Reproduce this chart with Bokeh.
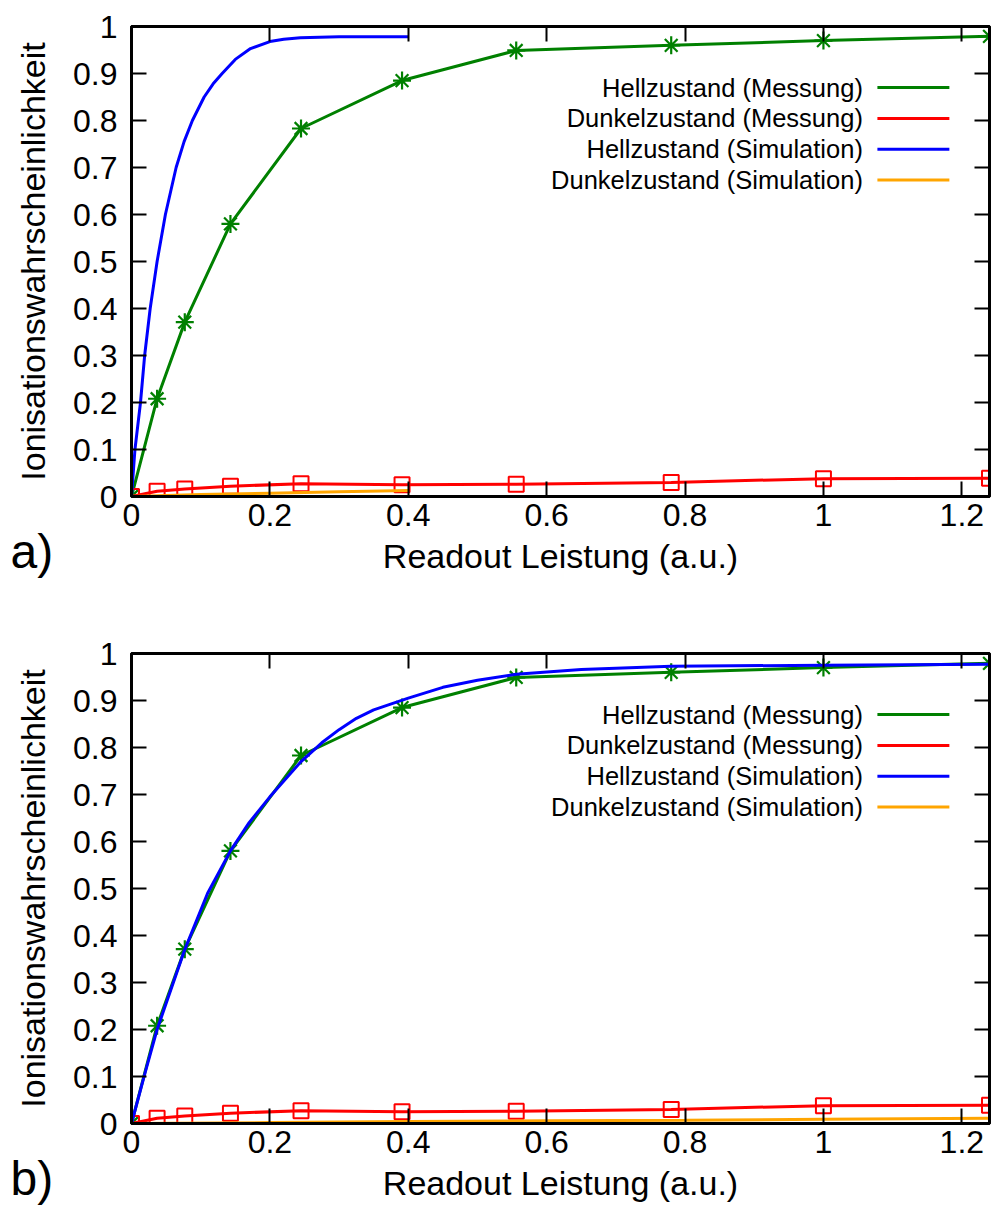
from bokeh.plotting import figure
from bokeh.models import LinearAxis, FixedTicker, Label, Range1d
from bokeh.layouts import column
from bokeh.embed import file_html
from bokeh.resources import INLINE

# ---------------- data ----------------
x_ticks = [0, 0.2, 0.4, 0.6, 0.8, 1.0, 1.2]
x_tick_labels = ["0", "0.2", "0.4", "0.6", "0.8", "1", "1.2"]
y_ticks = [0, 0.1, 0.2, 0.3, 0.4, 0.5, 0.6, 0.7, 0.8, 0.9, 1.0]
y_tick_labels = ["0", "0.1", "0.2", "0.3", "0.4", "0.5", "0.6", "0.7", "0.8", "0.9", "1"]

series_names = ["Hellzustand (Messung)", "Dunkelzustand (Messung)",
                "Hellzustand (Simulation)", "Dunkelzustand (Simulation)"]
panel_tags = ["a)", "b)"]

# measurement (same in both panels)
x_meas = [0, 0.037, 0.077, 0.143, 0.245, 0.391, 0.556, 0.78, 1.0, 1.24]
hell_meas = [0, 0.208, 0.371, 0.580, 0.783, 0.885, 0.949, 0.960, 0.970, 0.979]
dunkel_meas = [0, 0.011, 0.016, 0.022, 0.027, 0.025, 0.026, 0.030, 0.038, 0.039]

# panel a) simulation
sim_a_x = [0, 0.005, 0.013, 0.019, 0.027, 0.037, 0.049, 0.0645, 0.076, 0.088,
           0.105, 0.118, 0.131, 0.15, 0.172, 0.2, 0.22, 0.244, 0.3, 0.4]
sim_a_hell = [0, 0.1, 0.2, 0.3, 0.4, 0.5, 0.6, 0.7, 0.755, 0.8,
              0.85, 0.878, 0.9, 0.93, 0.953, 0.968, 0.973, 0.976, 0.978, 0.978]
sim_a_dx = [0, 0.1, 0.2, 0.3, 0.4]
sim_a_dunkel = [0, 0.004, 0.007, 0.010, 0.013]

# panel b) simulation
sim_b_x = [0, 0.02, 0.037, 0.077, 0.11, 0.143, 0.17, 0.2, 0.245, 0.275, 0.3,
           0.325, 0.35, 0.4, 0.45, 0.5, 0.556, 0.65, 0.78, 1.0, 1.24]
sim_b_hell = [0, 0.11, 0.2, 0.37, 0.49, 0.58, 0.64, 0.695, 0.77, 0.81, 0.838,
              0.862, 0.88, 0.905, 0.928, 0.943, 0.956, 0.966, 0.973, 0.975, 0.977]
sim_b_dx = [0, 0.2, 0.4, 0.6, 0.8, 1.0, 1.24]
sim_b_dunkel = [0, 0.002, 0.004, 0.006, 0.007, 0.009, 0.011]

# ---------------- styling ----------------
FONT = "Liberation Sans"
GREEN = "#008000"
RED = "#ff0000"
BLUE = "#0000ff"
ORANGE = "#ffa500"
colors = [GREEN, RED, BLUE, ORANGE]


def style_axis(ax, ticks, labels, show_labels=True):
    ax.ticker = FixedTicker(ticks=ticks)
    if show_labels:
        ax.major_label_overrides = {t: l for t, l in zip(ticks, labels)}
    else:
        ax.major_label_overrides = {t: "" for t in ticks}
    ax.major_tick_in = 15
    ax.major_tick_out = 0
    ax.minor_tick_line_color = None
    ax.major_tick_line_width = 2
    ax.major_tick_line_color = "black"
    ax.axis_line_width = 3
    ax.axis_line_color = "black"
    ax.major_label_text_font = FONT
    ax.major_label_text_font_size = "32px"
    ax.major_label_text_color = "black"
    ax.axis_label_text_font = FONT
    ax.axis_label_text_font_size = "34px"
    ax.axis_label_text_font_style = "normal"
    ax.axis_label_text_color = "black"


def make_fig(sim_x, sim_hell, sim_dx, sim_dunkel, bottom_border):
    p = figure(frame_width=858, frame_height=470,
               x_range=Range1d(0, 1.24), y_range=Range1d(0, 1),
               output_backend="svg", toolbar_location=None,
               min_border_left=131, min_border_right=9,
               min_border_top=26, min_border_bottom=bottom_border,
               x_axis_label="Readout Leistung (a.u.)",
               y_axis_label="Ionisationswahrscheinlichkeit")
    p.grid.visible = False
    p.outline_line_color = "black"
    p.outline_line_width = 3
    p.background_fill_color = "white"
    p.border_fill_color = "white"

    style_axis(p.xaxis[0], x_ticks, x_tick_labels)
    style_axis(p.yaxis[0], y_ticks, y_tick_labels)
    p.xaxis[0].major_label_standoff = 7
    p.xaxis[0].axis_label_standoff = 8
    p.yaxis[0].major_label_standoff = 14
    p.yaxis[0].axis_label_standoff = 18

    top = LinearAxis()
    style_axis(top, x_ticks, x_tick_labels, show_labels=False)
    top.major_label_standoff = 0
    p.add_layout(top, "above")
    right = LinearAxis()
    style_axis(right, y_ticks, y_tick_labels, show_labels=False)
    right.major_label_standoff = 0
    p.add_layout(right, "right")

    # measurement lines
    p.line(x_meas, hell_meas, line_color=GREEN, line_width=3)
    p.scatter(x_meas, hell_meas, marker="asterisk", size=18,
              line_color=GREEN, line_width=2.2)
    p.line(x_meas, dunkel_meas, line_color=RED, line_width=3)
    p.scatter(x_meas, dunkel_meas, marker="square", size=15,
              line_color=RED, fill_color=None, line_width=2)
    # simulation lines
    p.line(sim_x, sim_hell, line_color=BLUE, line_width=3)
    p.line(sim_dx, sim_dunkel, line_color=ORANGE, line_width=3)

    # legend (gnuplot style: text left, sample right)
    row0 = 0.870
    dy = 0.0655
    for i, (name, c) in enumerate(zip(series_names, colors)):
        yy = row0 - i * dy
        p.add_layout(Label(x=1.057, y=yy, text=name, text_align="right",
                           text_baseline="middle", text_font=FONT,
                           text_font_size="25.5px", text_color="black"))
        p.line([1.078, 1.182], [yy, yy], line_color=c, line_width=3)
    return p


def make_tag(tag, margin, base_y):
    f = figure(frame_width=70, frame_height=60, x_range=Range1d(0, 70), y_range=Range1d(0, 60),
               output_backend="svg", toolbar_location=None, title=None,
               x_axis_location=None, y_axis_location=None,
               min_border=0, min_border_left=0, min_border_right=0,
               min_border_top=0, min_border_bottom=0, margin=margin)
    f.frame_align = False
    f.grid.visible = False
    f.outline_line_color = None
    f.background_fill_color = None
    f.border_fill_color = None
    f.add_layout(Label(x=5, y=base_y, text=tag, text_align="left",
                       text_baseline="alphabetic", text_font=FONT,
                       text_font_size="48px", text_color="black"))
    return f


p1 = make_fig(sim_a_x, sim_a_hell, sim_a_dx, sim_a_dunkel, 131)
p2 = make_fig(sim_b_x, sim_b_hell, sim_b_dx, sim_b_dunkel, 96)
fa = make_tag(panel_tags[0], (-102, 0, 42, 5), 34)
fb = make_tag(panel_tags[1], (-69, 0, 9, 5), 32)

layout = column(p1, fa, p2, fb, spacing=0)
open("out.html", "w").write(file_html(layout, INLINE))
